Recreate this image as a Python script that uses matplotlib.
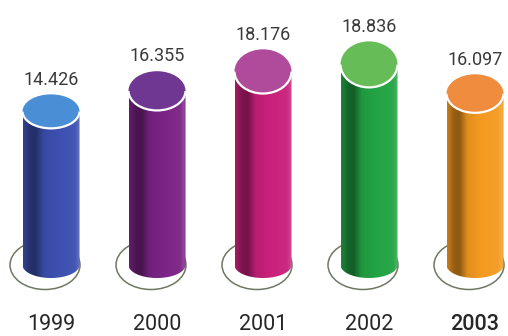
import numpy as np
import matplotlib
matplotlib.use("Agg")
import matplotlib.pyplot as plt
from matplotlib.patches import Ellipse, Arc, Polygon
from matplotlib.colors import LinearSegmentedColormap, to_rgb

years = ["1999", "2000", "2001", "2002", "2003"]
values = [14.426, 16.355, 18.176, 18.836, 16.097]
labels = ["14.426", "16.355", "18.176", "18.836", "16.097"]
body_colors = ["#3d50b0", "#7c2386", "#c9207c", "#22a444", "#f49a20"]
top_colors = ["#4a8fd6", "#6f3792", "#b04a9a", "#66bc57", "#f08c3e"]

plt.rcParams['font.family'] = ['Roboto', 'DejaVu Sans']

fig = plt.figure(figsize=(5.08, 3.36), dpi=100)
ax = fig.add_axes([0, 0, 1, 1])
PX = 1 / 106.0
PY = 1 / 10.65
ax.set_xlim(-51 * PX, 457 * PX)
ax.set_ylim(-71 * PY, 265 * PY)
ax.axis('off')

w = 28.5 * PX
bot_sh = 13 * PY


def shade(c, f):
    r, g, b = to_rgb(c)
    if f <= 1:
        return (r * f, g * f, b * f)
    t = f - 1
    return (r + (1 - r) * t, g + (1 - g) * t, b + (1 - b) * t)


profile = [(0.0, 0.82), (0.12, 0.62), (0.22, 0.58), (0.36, 0.92), (0.6, 1.0),
           (0.9, 1.04), (0.97, 1.18), (1.0, 0.95)]

for i, (yr, v, lab, bc, tc) in enumerate(zip(years, values, labels, body_colors, top_colors)):
    x = i
    sh = (17 + 1.36 * (v - 14.426)) * PY
    # ground ring
    ring = Ellipse((x - 6 * PX, 0), 70 * PX, 49 * PY, fill=False,
                   edgecolor='#6e7863', lw=1.1, zorder=1)
    ax.add_patch(ring)
    # body with gradient
    cmap = LinearSegmentedColormap.from_list(
        "c%d" % i, [(p, shade(bc, f)) for p, f in profile])
    grad = np.linspace(0, 1, 256).reshape(1, -1)
    im = ax.imshow(grad, extent=[x - w, x + w, -bot_sh, v], aspect='auto',
                   cmap=cmap, interpolation='bilinear', zorder=2)
    th = np.linspace(np.pi, 2 * np.pi, 60)
    pts = [(x - w, v)] + [(x + w * np.cos(t), bot_sh * np.sin(t)) for t in th] + [(x + w, v)]
    clip = Polygon(pts, closed=True, transform=ax.transData)
    im.set_clip_path(clip)
    # top
    ax.add_patch(Ellipse((x, v), 2 * w, 2 * sh, facecolor=tc, edgecolor='none', zorder=3))
    ax.add_patch(Arc((x, v), 2 * w, 2 * sh, theta1=185, theta2=355,
                     color='white', lw=1.6, zorder=4))
    # labels
    ax.annotate(lab, xy=(x, v + sh), xytext=(0, 7), textcoords='offset points',
                ha='center', va='baseline', fontsize=13, color='#3a3a3a', zorder=5)
    ax.text(x, -6.1, yr, ha='center', va='baseline', fontsize=15.5,
            color='#262626', fontweight='medium' if yr == "2003" else 'normal', zorder=5)

fig.savefig("out.png", dpi=100)
